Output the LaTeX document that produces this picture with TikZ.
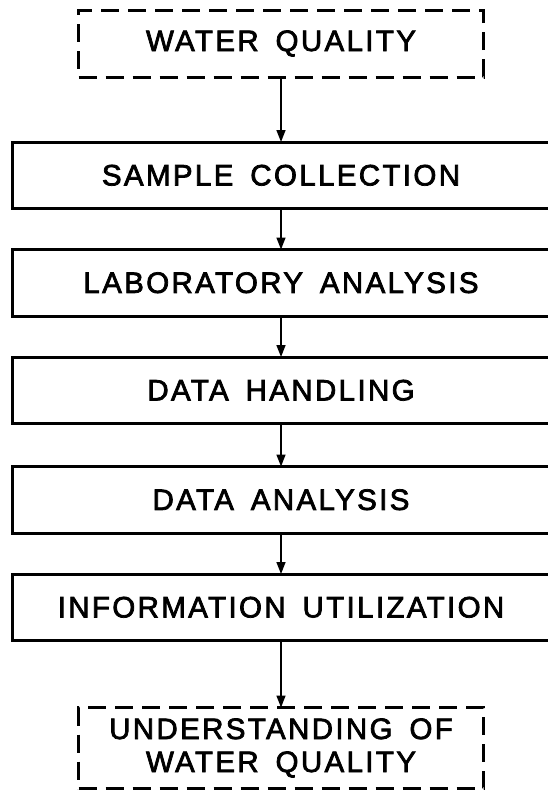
\documentclass[tikz,border=0pt]{standalone}
\usepackage{fontspec}
\setmainfont{Liberation Sans}[LetterSpace=8,WordSpace=1.6,FakeBold=2.5]
\usetikzlibrary{arrows.meta,positioning}

\begin{document}
\begin{tikzpicture}[x=1pt,y=1pt,
    stage/.style={draw,line width=3pt,minimum width=538pt,
                  minimum height=66.5pt,outer sep=0pt,inner sep=0pt,
                  font=\fontsize{29.5}{33}\selectfont},
    bound/.style={stage,dash pattern=on 18pt off 9pt,minimum width=405pt},
    arr/.style={-{Triangle[length=12pt,width=9pt]},line width=1.6pt},
  ]
    \useasboundingbox (0,0) rectangle (547,-790);
    \node[bound,minimum height=67pt](wq) at (281,-43.5){WATER QUALITY};
    \node[stage,below=65pt of wq](s1){SAMPLE COLLECTION};
    \node[stage,below=41pt of s1](s2){LABORATORY ANALYSIS};
    \node[stage,below=41pt of s2](s3){DATA HANDLING};
    \node[stage,below=43pt of s3](s4){DATA ANALYSIS};
    \node[stage,below=41pt of s4](s5){INFORMATION UTILIZATION};
    \node[bound,minimum height=81pt,align=center,
      below=67pt of s5](uq){UNDERSTANDING OF\\WATER QUALITY};
    \draw[arr](wq)--(s1); \draw[arr](s1)--(s2); \draw[arr](s2)--(s3);
    \draw[arr](s3)--(s4); \draw[arr](s4)--(s5); \draw[arr](s5)--(uq);
  \end{tikzpicture}
\end{document}
